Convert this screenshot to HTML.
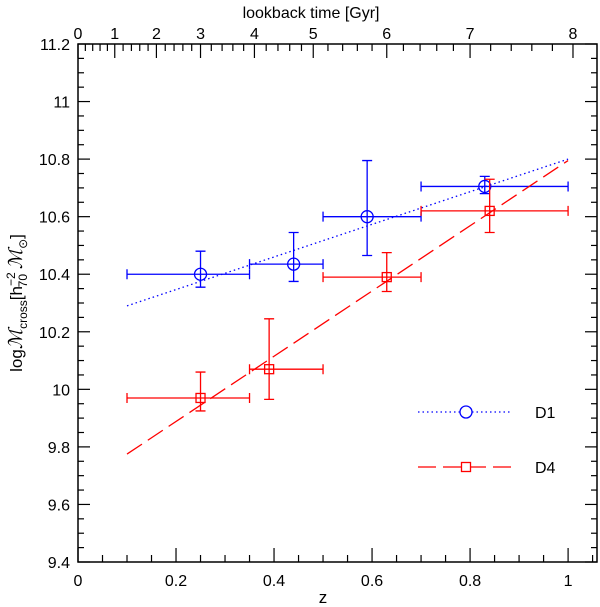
<!DOCTYPE html>
<html><head><meta charset="utf-8"><style>body{margin:0;background:#fff}svg{display:block;font-family:"Liberation Sans",sans-serif}</style></head>
<body>
<svg id="c" width="600" height="607" xmlns="http://www.w3.org/2000/svg"></svg>
<script>
const yTicks=[9.4,9.6,9.8,10,10.2,10.4,10.6,10.8,11,11.2];
const yTickLabels=["9.4","9.6","9.8","10","10.2","10.4","10.6","10.8","11","11.2"];
const xTicks=[0,0.2,0.4,0.6,0.8,1];
const xTickLabels=["0","0.2","0.4","0.6","0.8","1"];
const topTickLabels=["0","1","2","3","4","5","6","7","8"];
const topTickZ=[0,0.075,0.16,0.25,0.36,0.48,0.63,0.80,1.01];
const d1Z=[0.25,0.44,0.59,0.83];
const d1Y=[10.40,10.435,10.60,10.705];
const d1XLo=[0.1,0.35,0.5,0.7];
const d1XHi=[0.35,0.5,0.7,1.0];
const d1YLo=[10.355,10.375,10.465,10.68];
const d1YHi=[10.48,10.545,10.795,10.74];
const d1Fit=[[0.1,10.29],[1.0,10.80]];
const d4Z=[0.25,0.39,0.63,0.84];
const d4Y=[9.97,10.07,10.39,10.62];
const d4XLo=[0.1,0.35,0.5,0.7];
const d4XHi=[0.35,0.5,0.7,1.0];
const d4YLo=[9.925,9.965,10.34,10.545];
const d4YHi=[10.06,10.245,10.475,10.73];
const d4Fit=[[0.1,9.775],[1.0,10.795]];

const L=78,R=597,T=44,B=562,zMax=1.059,yMin=9.4,yMax=11.2;
const X=z=>L+(R-L)*z/zMax;
const Y=v=>B-(B-T)*(v-yMin)/(yMax-yMin);
const svg=document.getElementById('c');
const NS="http://www.w3.org/2000/svg";
function mk(tag,attrs,parent){const e=document.createElementNS(NS,tag);for(const k in attrs)e.setAttribute(k,attrs[k]);(parent||svg).appendChild(e);return e;}
function txt(s,x,y,anchor,size,parent){const t=mk('text',{x:x,y:y,'text-anchor':anchor,'font-size':size,fill:'#000'},parent);t.textContent=s;return t;}

const frame=mk('rect',{x:L,y:T,width:R-L,height:B-T,fill:'none',stroke:'#000','stroke-width':1.5});



const ax=mk('g',{stroke:'#000','stroke-width':1.2});


for(let i=0;i<=36;i++){const v=9.4+i*0.05;const y=Y(v);const len=i%4==0?12:6;
 mk('line',{x1:L,x2:L+len,y1:y,y2:y},ax);mk('line',{x1:R,x2:R-len,y1:y,y2:y},ax);}
for(let i=0;i<=21;i++){const z=i*0.05;const x=X(z);const len=i%4==0?14:7;mk('line',{x1:x,x2:x,y1:B,y2:B-len},ax);}
for(let i=0;i<topTickZ.length;i++){const x=X(topTickZ[i]);mk('line',{x1:x,x2:x,y1:T,y2:T+14},ax);
 if(i<topTickZ.length-1){for(let k=1;k<5;k++){const xm=X(topTickZ[i]+(topTickZ[i+1]-topTickZ[i])*k/5);mk('line',{x1:xm,x2:xm,y1:T,y2:T+7},ax);}}}

const yl=mk('g',{});


yTicks.forEach((v,i)=>txt(yTickLabels[i],L-8,Y(v)+6,'end',16,yl));
const xl=mk('g',{});


xTicks.forEach((v,i)=>txt(xTickLabels[i],X(v),586,'middle',16,xl));
const tl=mk('g',{});


topTickZ.forEach((z,i)=>txt(topTickLabels[i],X(z),39,'middle',16,tl));

const xt=txt('z',X(0.5),603,'middle',17);


const tt=txt('lookback time [Gyr]',X(0.5)-12,18,'middle',16);



const yt=mk('text',{transform:'translate(22,303) rotate(-90)','text-anchor':'middle','font-size':17,fill:'#000'});


yt.innerHTML='log<tspan font-style="italic" font-family="Liberation Serif" font-size="19">ℳ</tspan><tspan font-size="12" dy="5">cross</tspan><tspan dy="-5">[h</tspan><tspan font-size="12" dy="-7">−2</tspan><tspan font-size="12" dx="-15" dy="12">70</tspan><tspan dy="-5"> </tspan><tspan font-style="italic" font-family="Liberation Serif" font-size="19">ℳ</tspan><tspan font-size="12" dy="5">⊙</tspan><tspan dy="-5">]</tspan>';

function series(name,color,Z,V,XL,XH,YL,YH,fit,dash,marker){
 const g=mk('g',{stroke:color,fill:'none','stroke-width':1.3});
 
 
 const ln=mk('line',{x1:X(fit[0][0]),y1:Y(fit[0][1]),x2:X(fit[1][0]),y2:Y(fit[1][1]),'stroke-dasharray':dash},g);
 
 
 for(let i=0;i<Z.length;i++){
  const x=X(Z[i]),y=Y(V[i]);
  const e=mk('path',{d:`M${X(XL[i])},${y}H${X(XH[i])}M${X(XL[i])},${y-5}v10M${X(XH[i])},${y-5}v10M${x},${Y(YL[i])}V${Y(YH[i])}M${x-5},${Y(YL[i])}h10M${x-5},${Y(YH[i])}h10`},g);
  
  
  const m=marker=='c'?mk('circle',{cx:x,cy:y,r:6,fill:'none'},g):mk('rect',{x:x-4.5,y:y-4.5,width:9,height:9,fill:'none'},g);
  
  
 }
}
series('d1','#0000ff',d1Z,d1Y,d1XLo,d1XHi,d1YLo,d1YHi,d1Fit,'1.5,3','c');
series('d4','#ff0000',d4Z,d4Y,d4XLo,d4XHi,d4YLo,d4YHi,d4Fit,'18,7','s');

const lg=mk('g',{});


const e1=mk('g',{},lg);


mk('line',{x1:418,x2:512,y1:412,y2:412,stroke:'#0000ff','stroke-width':1.3,'stroke-dasharray':'1.5,3'},e1);
mk('circle',{cx:466,cy:412,r:6,fill:'#fff',stroke:'#0000ff','stroke-width':1.3},e1);
txt('D1',535,418,'start',16,e1);
const e2=mk('g',{},lg);


mk('line',{x1:418,x2:512,y1:467,y2:467,stroke:'#ff0000','stroke-width':1.3,'stroke-dasharray':'18,7'},e2);
mk('rect',{x:461.5,y:462.5,width:9,height:9,fill:'#fff',stroke:'#ff0000','stroke-width':1.3},e2);
txt('D4',535,473,'start',16,e2);
</script>
</body></html>
